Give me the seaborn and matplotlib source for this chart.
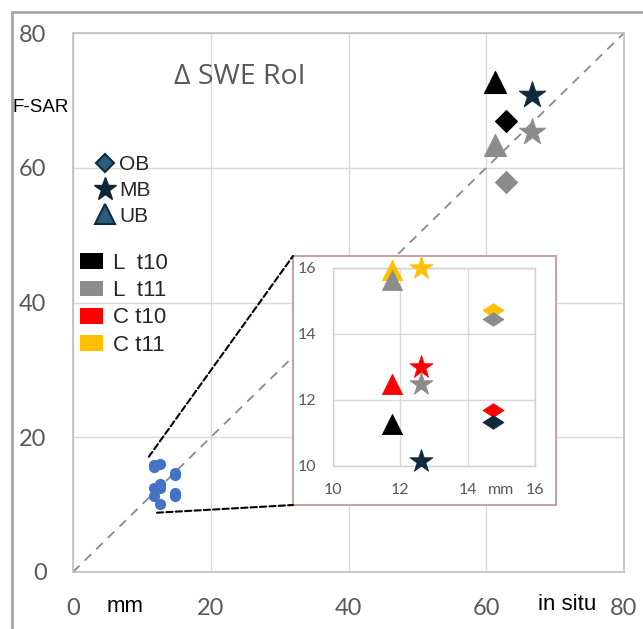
import numpy as np
import pandas as pd
import matplotlib
matplotlib.use("Agg")
import matplotlib.pyplot as plt
import seaborn as sns
from matplotlib.patches import Rectangle, Patch, ConnectionPatch
from matplotlib.lines import Line2D
from matplotlib.markers import MarkerStyle
from matplotlib.path import Path

# ---------------- data ----------------
bands = ["OB", "MB", "UB"]
series = ["L  t10", "L  t11", "C t10", "C t11"]

# main panel (L-band, large SWE change), mm
main_insitu = [62.9, 66.7, 61.2]
main_L_t10 = [67.0, 70.8, 72.8]
main_L_t11 = [57.9, 65.3, 63.4]

# zoomed panel values, mm
zoom_insitu = [14.76, 12.62, 11.74]
zoom_L_t10 = [11.33, 10.15, 11.27]
zoom_L_t11 = [14.45, 12.5, 15.64]
zoom_C_t10 = [11.7, 13.0, 12.5]
zoom_C_t11 = [14.73, 16.0, 15.94]

main_ticks = [0, 20, 40, 60, 80]
zoom_ticks = [10, 12, 14, 16]

# ---------------- styles ----------------
NAVY = "#0f2a3c"
series_colors = {"L  t10": "#000000", "L  t11": "#8c8c8c",
                 "C t10": "#ff0000", "C t11": "#ffc000"}
flat_diamond = MarkerStyle(Path([(-1, 0), (0, 0.65), (1, 0), (0, -0.65), (-1, 0)],
                                [Path.MOVETO, Path.LINETO, Path.LINETO, Path.LINETO, Path.CLOSEPOLY]))
main_markers = {"OB": ("D", 125), "MB": ("*", 390), "UB": ("^", 250)}
zoom_markers = {"OB": (flat_diamond, 225), "MB": ("*", 300), "UB": ("^", 210)}

sns.set_style("white")
plt.rcParams["font.family"] = ["Liberation Sans", "DejaVu Sans"]

W, H = 643, 629
fig = plt.figure(figsize=(W / 100, H / 100), dpi=100)

def fx(px):
    return px / W

def fy(py):
    return 1 - py / H

GRAYTXT = "#595959"
TICKFONT = ["Lato", "DejaVu Sans"]

# ---------------- main axes ----------------
ax = fig.add_axes([fx(73), fy(572), fx(624) - fx(73), fy(33) - fy(572)])
ax.set_xlim(0, 80)
ax.set_ylim(0, 80)
ax.set_xticks(main_ticks)
ax.set_yticks(main_ticks)
ax.grid(True, color="#d9d9d9", linewidth=1.0)
for sp in ax.spines.values():
    sp.set_color("#bfbfbf")
    sp.set_linewidth(1.2)
ax.tick_params(length=0, labelsize=17, labelcolor=GRAYTXT, pad=19)
for lab in ax.get_xticklabels() + ax.get_yticklabels():
    lab.set_family(TICKFONT)

# 1:1 line
ax.plot([0, 80], [0, 80], linestyle=(0, (5, 4)), color="#8a8a8a", linewidth=1.3, zorder=1)

# small-SWE values summarised as blue dots on the main axes
blue_df = pd.DataFrame({
    "insitu": zoom_insitu * 4,
    "fsar": zoom_L_t10 + zoom_L_t11 + zoom_C_t10 + zoom_C_t11,
})
sns.scatterplot(data=blue_df, x="insitu", y="fsar", ax=ax, color="#4472c4",
                s=65, edgecolor="#4472c4", linewidth=0, legend=False, zorder=3)

# L-band large values
main_df = pd.DataFrame({
    "band": bands * 2,
    "series": ["L  t10"] * 3 + ["L  t11"] * 3,
    "insitu": main_insitu * 2,
    "fsar": main_L_t10 + main_L_t11,
})
for i, row in main_df.iterrows():
    m, s = main_markers[row["band"]]
    col = series_colors[row["series"]]
    if row["series"] == "L  t10" and row["band"] == "MB":
        col = NAVY
    sns.scatterplot(data=main_df.loc[[i]], x="insitu", y="fsar", ax=ax, marker=m, s=s,
                    color=col, edgecolor=col, linewidth=0.8, legend=False, zorder=4)
ax.set_xlabel("")
ax.set_ylabel("")

# ---------------- inset box ----------------
bx0, by0, bx1, by1 = fx(293), fy(505), fx(556), fy(256)
box = Rectangle((bx0, by0), bx1 - bx0, by1 - by0, transform=fig.transFigure,
                facecolor="white", edgecolor="#c49a9a", linewidth=1.3, zorder=2)
fig.add_artist(box)

# connector lines
for (xa, ya), (xb, yb) in [((11.0, 17.1), (bx0, by1)), ((12.2, 8.8), (bx0, by0))]:
    cp = ConnectionPatch(xyA=(xa, ya), coordsA=ax.transData, xyB=(xb, yb),
                         coordsB=fig.transFigure, linestyle=(0, (3, 1.5)),
                         color="black", linewidth=1.5, zorder=2.5)
    fig.add_artist(cp)

# ---------------- inset axes ----------------
axi = fig.add_axes([fx(333), fy(466), fx(535) - fx(333), fy(268) - fy(466)])
axi.set_zorder(3)
axi.set_xlim(10, 16)
axi.set_ylim(10, 16)
axi.set_xticks(zoom_ticks)
axi.set_yticks(zoom_ticks)
axi.grid(True, color="#d9d9d9", linewidth=1.0)
for sp in axi.spines.values():
    sp.set_color("#d0d0d0")
    sp.set_linewidth(1.0)
axi.tick_params(length=0, labelsize=11.5, labelcolor=GRAYTXT, pad=12)
for lab in axi.get_xticklabels() + axi.get_yticklabels():
    lab.set_family(TICKFONT)

zoom_df = pd.DataFrame({
    "band": bands * 4,
    "series": sum([[s] * 3 for s in ["C t11", "C t10", "L  t11", "L  t10"]], []),
    "insitu": zoom_insitu * 4,
    "fsar": zoom_C_t11 + zoom_C_t10 + zoom_L_t11 + zoom_L_t10,
})
for i, row in zoom_df.iterrows():
    m, s = zoom_markers[row["band"]]
    col = series_colors[row["series"]]
    if row["series"] == "L  t10" and row["band"] in ("MB", "OB"):
        col = NAVY
    sns.scatterplot(data=zoom_df.loc[[i]], x="insitu", y="fsar", ax=axi, marker=m, s=s,
                    color=col, edgecolor=col, linewidth=0.6, legend=False, zorder=4,
                    clip_on=False)
axi.set_xlabel("")
axi.set_ylabel("")
axi.text(15.0, -0.085, "mm", transform=axi.get_xaxis_transform(), ha="center", va="top",
         fontsize=11.5, color=GRAYTXT, family=TICKFONT)

# ---------------- texts ----------------
fig.text(fx(240), fy(77), "Δ SWE RoI", ha="center", va="center", fontsize=20.5,
         color=GRAYTXT, family=["Open Sans", "DejaVu Sans"])
fig.text(fx(13), fy(108), "F-SAR", ha="left", va="center", fontsize=13.5, color="black")
fig.text(fx(125), fy(607), "mm", ha="center", va="center", fontsize=16, color="black")
fig.text(fx(567), fy(605), "in situ", ha="center", va="center", fontsize=16, color="black")

# ---------------- legends ----------------
shape_handles = [
    Line2D([], [], linestyle="none", marker="D", markersize=9.2,
           markerfacecolor="#2b5c80", markeredgecolor="#102a3c", markeredgewidth=1.5),
    Line2D([], [], linestyle="none", marker="*", markersize=17,
           markerfacecolor="#0f2536", markeredgecolor="#0f2536"),
    Line2D([], [], linestyle="none", marker="^", markersize=14,
           markerfacecolor="#2b5c80", markeredgecolor="#102a3c", markeredgewidth=1.5),
]
leg1 = ax.legend(shape_handles, bands, loc="upper left",
                 bbox_to_anchor=(fx(95), fy(155)), bbox_transform=fig.transFigure,
                 frameon=False, fontsize=15, handlelength=1.0, handletextpad=0.15,
                 labelspacing=0.33, borderpad=0, borderaxespad=0)
ax.add_artist(leg1)

color_handles = [Patch(facecolor=series_colors[s], edgecolor="none") for s in series]
ax.legend(color_handles, series, loc="upper left",
          bbox_to_anchor=(fx(80), fy(253)), bbox_transform=fig.transFigure,
          frameon=False, fontsize=16, handlelength=1.04, handleheight=0.72,
          handletextpad=0.45, labelspacing=0.28, borderpad=0, borderaxespad=0)

# outer frame
frame = Rectangle((fx(12), -0.1), 1.2, fy(12) + 0.1, transform=fig.transFigure,
                  facecolor="none", edgecolor="#a6a6a6", linewidth=2, zorder=0)
fig.add_artist(frame)

fig.savefig("out.png", dpi=100)
